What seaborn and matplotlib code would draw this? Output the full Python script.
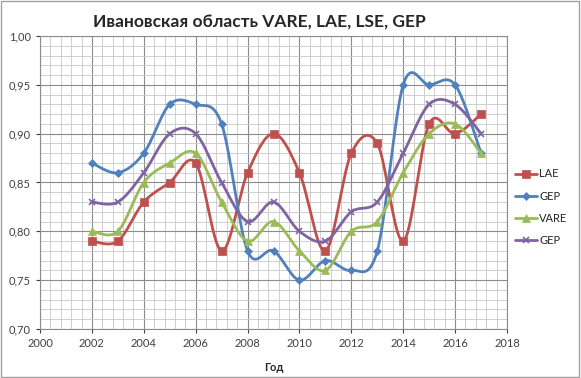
import numpy as np
import pandas as pd
import matplotlib
matplotlib.use("Agg")
import matplotlib.pyplot as plt
import seaborn as sns
from matplotlib.ticker import MultipleLocator, FuncFormatter

years = [2002, 2003, 2004, 2005, 2006, 2007, 2008, 2009, 2010, 2011, 2012, 2013, 2014, 2015, 2016, 2017]
lae = [0.79, 0.79, 0.83, 0.85, 0.87, 0.78, 0.86, 0.90, 0.86, 0.78, 0.88, 0.89, 0.79, 0.91, 0.90, 0.92]
gep = [0.87, 0.86, 0.88, 0.93, 0.93, 0.91, 0.78, 0.78, 0.75, 0.77, 0.76, 0.78, 0.95, 0.95, 0.95, 0.88]
vare = [0.80, 0.80, 0.85, 0.87, 0.88, 0.83, 0.79, 0.81, 0.78, 0.76, 0.80, 0.81, 0.86, 0.90, 0.91, 0.88]
gep2 = [0.83, 0.83, 0.86, 0.90, 0.90, 0.85, 0.81, 0.83, 0.80, 0.79, 0.82, 0.83, 0.88, 0.93, 0.93, 0.90]

series = [
    ("LAE", lae, "#C0504D", "s", 6),
    ("GEP", gep, "#4F81BD", "D", 4.5),
    ("VARE", vare, "#9BBB59", "^", 6),
    ("GEP ", gep2, "#8064A2", "x", 5),
]


# сглаживание как в Excel (кривая Безье / Catmull-Rom)
def smooth(x, y, n=20):
    x = np.asarray(x, float)
    y = np.asarray(y, float)
    px = np.concatenate([[x[0]], x, [x[-1]]])
    py = np.concatenate([[y[0]], y, [y[-1]]])
    xs, ys = [], []
    t = np.linspace(0, 1, n)
    for i in range(1, len(px) - 2):
        p0 = np.array([px[i], py[i]])
        p3 = np.array([px[i + 1], py[i + 1]])
        c1 = p0 + (np.array([px[i + 1], py[i + 1]]) - np.array([px[i - 1], py[i - 1]])) / 6
        c2 = p3 - (np.array([px[i + 2], py[i + 2]]) - np.array([px[i], py[i]])) / 6
        b = ((1 - t) ** 3)[:, None] * p0 + (3 * (1 - t) ** 2 * t)[:, None] * c1 \
            + (3 * (1 - t) * t ** 2)[:, None] * c2 + (t ** 3)[:, None] * p3
        xs.extend(b[:, 0])
        ys.extend(b[:, 1])
    return np.array(xs), np.array(ys)


sns.set_style("white")
plt.rcParams['font.family'] = ['Lato', 'DejaVu Sans']

fig = plt.figure(figsize=(5.81, 3.78), dpi=100)
ax = fig.add_axes([40 / 581, 1 - 329 / 378, 467 / 581, 293 / 378])

for name, vals, color, marker, ms in series:
    sx, sy = smooth(years, vals)
    sns.lineplot(x=sx, y=sy, ax=ax, color=color, linewidth=2, sort=False, estimator=None)
    ax.plot(years, vals, linestyle="none", marker=marker, color=color, markersize=ms,
            markeredgewidth=1.2 if marker == "x" else 0.5, label=name.strip())

ax.set_xlim(2000, 2018)
ax.set_ylim(0.70, 1.00)
ax.xaxis.set_major_locator(MultipleLocator(2))
ax.xaxis.set_minor_locator(MultipleLocator(0.4))
ax.yaxis.set_major_locator(MultipleLocator(0.05))
ax.yaxis.set_minor_locator(MultipleLocator(0.01))
ax.yaxis.set_major_formatter(FuncFormatter(lambda v, p: f"{v:.2f}".replace(".", ",")))
ax.grid(which="major", color="#8C8C8C", linewidth=0.8)
ax.grid(which="minor", color="#C8C8C8", linewidth=0.6)
ax.set_axisbelow(True)
ax.tick_params(axis="both", which="major", labelsize=8, colors="#404040", length=3, direction="out")
ax.tick_params(axis="y", which="major", left=True)
ax.tick_params(axis="x", which="major", bottom=True)
for s in ax.spines.values():
    s.set_color("#8C8C8C")
    s.set_linewidth(0.8)

ax.set_xlabel("Год", fontsize=8, fontweight="bold")
ax.xaxis.set_label_coords(0.5, -0.133)
ax.xaxis.label.set_verticalalignment("center")

fig.text(0.446, 0.94, "Ивановская область VARE, LAE, LSE, GEP", ha="center", va="center",
         fontsize=12.5, fontweight="bold")

leg = ax.legend(loc="center left", bbox_to_anchor=(6 / 467, 0.416), frameon=False, fontsize=8,
                handlelength=2.0, labelspacing=1.0, handletextpad=0.2, borderaxespad=0,
                borderpad=0)
for h in leg.legend_handles:
    h.set_linestyle("-")
    h.set_linewidth(2)
leg.set_bbox_to_anchor((1 + 8 / 467, 0.416), transform=ax.transAxes)

fig.patches.append(plt.Rectangle((0.002, 0.003), 0.994, 0.994, transform=fig.transFigure,
                                 fill=False, edgecolor="#A0A0A0", linewidth=1))

plt.savefig("out.png", dpi=100)
